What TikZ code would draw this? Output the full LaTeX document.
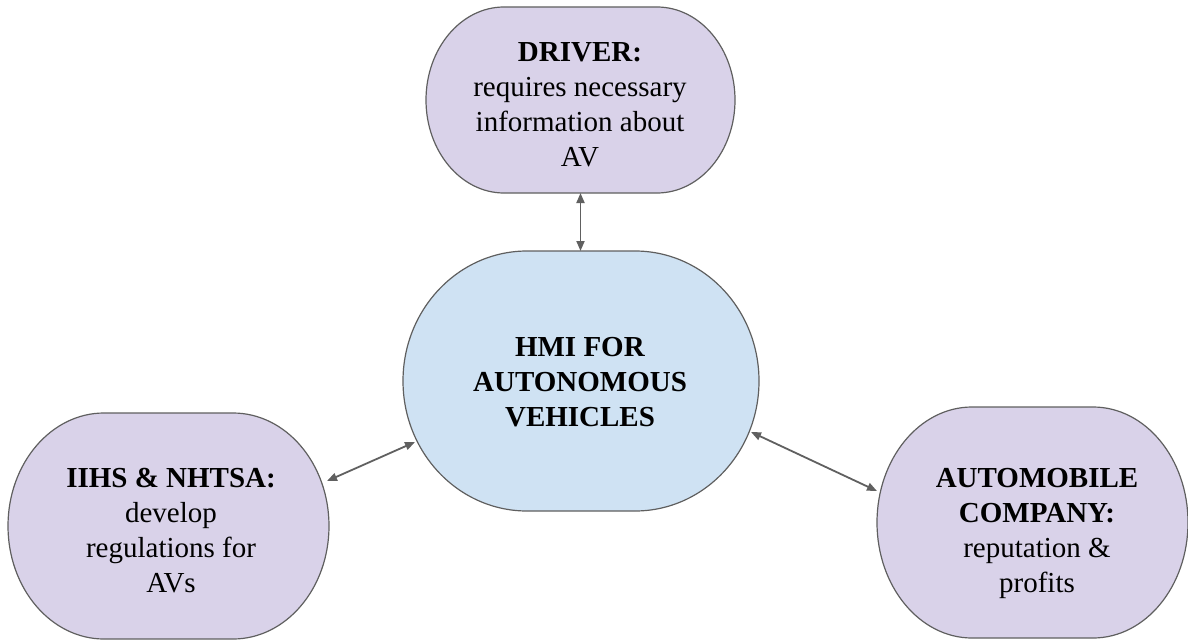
\documentclass[tikz,border=0pt]{standalone}
\usepackage{fontspec}
\setmainfont{Liberation Serif}
\usetikzlibrary{calc,arrows.meta,backgrounds}

\definecolor{lavender}{HTML}{D9D2E9}
\definecolor{paleblue}{HTML}{CFE2F3}
\definecolor{edgegrey}{HTML}{5F5F5F}
\definecolor{linkgrey}{HTML}{606060}

\tikzset{
  shapebox/.style={draw=none, inner sep=0pt, outer sep=0pt},
  outline/.style={draw=edgegrey, line width=1.2pt},
  txt/.style={align=center, text=black, inner sep=0pt,
    font=\fontsize{29}{35}\selectfont},
  link/.style={draw=linkgrey, line width=1.8pt,
    {Triangle[length=10pt,width=8pt]}-{Triangle[length=10pt,width=8pt]}},
}

% rectangle with elliptical corners around a node: node, fill, rx, ry (pt)
\newcommand\ovaloutline[4]{%
  \path[outline, fill=#2] let \p1=(#1.south west), \p2=(#1.north east) in
    (\x1+#3pt,\y1) -- (\x2-#3pt,\y1)
    .. controls (\x2-0.4477*#3pt,\y1) and (\x2,\y1+0.4477*#4pt) .. (\x2,\y1+#4pt)
    -- (\x2,\y2-#4pt)
    .. controls (\x2,\y2-0.4477*#4pt) and (\x2-0.4477*#3pt,\y2) .. (\x2-#3pt,\y2)
    -- (\x1+#3pt,\y2)
    .. controls (\x1+0.4477*#3pt,\y2) and (\x1,\y2-0.4477*#4pt) .. (\x1,\y2-#4pt)
    -- (\x1,\y1+#4pt)
    .. controls (\x1,\y1+0.4477*#4pt) and (\x1+0.4477*#3pt,\y1) .. (\x1+#3pt,\y1)
    -- cycle;
}

\begin{document}
\begin{tikzpicture}[x=1pt, y=-1pt]
\useasboundingbox (0,0) rectangle (1188,642);

% bubbles
\node[shapebox, minimum width=309pt, minimum height=186pt] (drv) at (580.5,100) {};
\node[shapebox, minimum width=356pt, minimum height=260pt] (hmi) at (581,381) {};
\node[shapebox, minimum width=321pt, minimum height=226pt] (iihs) at (168.5,526) {};
\node[shapebox, minimum width=311pt, minimum height=231pt] (auto) at (1032.5,522.5) {};

\begin{pgfonlayer}{background}
  \ovaloutline{drv}{lavender}{78}{93}
  \ovaloutline{hmi}{paleblue}{124}{130}
  \ovaloutline{iihs}{lavender}{96}{113}
  \ovaloutline{auto}{lavender}{95}{115.5}
\end{pgfonlayer}

% labels
\node[txt] (drv-text) at (580,105)
  {\textbf{DRIVER:}\\requires necessary\\information about\\AV};
\node[txt] (hmi-text) at (580,382.5)
  {\textbf{HMI FOR}\\\textbf{AUTONOMOUS}\\\textbf{VEHICLES}};
\node[txt] (iihs-text) at (171,531)
  {\textbf{IIHS \& NHTSA:}\\develop\\regulations for\\AVs};
\node[txt] (auto-text) at (1037,533)
  {\textbf{AUTOMOBILE}\\\textbf{COMPANY:}\\reputation \&\\profits};

% ports on the curved borders
\coordinate (iihs-e) at ($(iihs.center)+(158.5,-45)$);
\coordinate (hmi-w)  at ($(hmi.center)+(-166,61)$);
\coordinate (hmi-e)  at ($(hmi.center)+(170,51)$);
\coordinate (auto-w) at ($(auto.center)+(-155.5,-31.5)$);

% links
\draw[link] (drv.south) -- (drv.south |- hmi.north);
\draw[link] (iihs-e) -- (hmi-w);
\draw[link] (hmi-e) -- (auto-w);
\end{tikzpicture}
\end{document}
